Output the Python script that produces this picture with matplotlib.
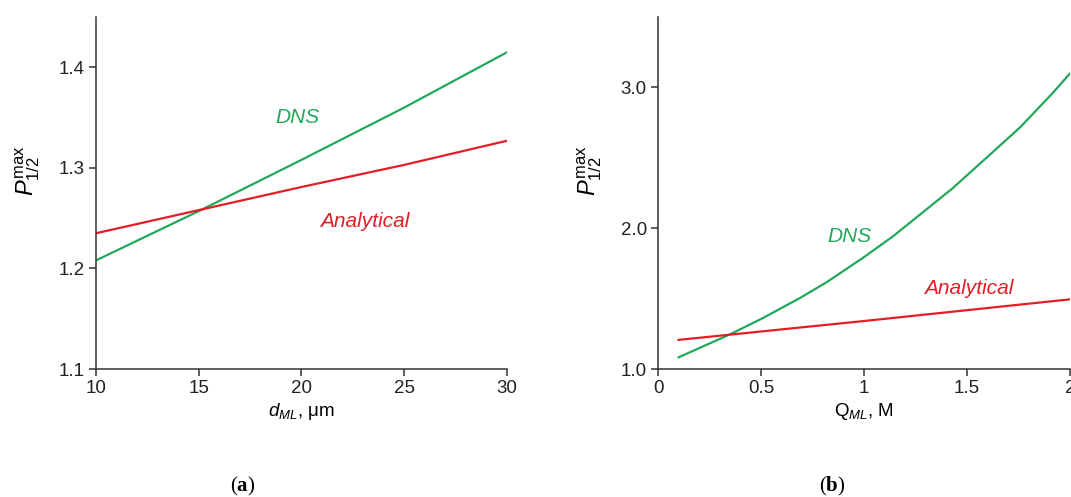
import numpy as np
import matplotlib
matplotlib.use('Agg')
import matplotlib.pyplot as plt

plt.rcParams['font.family'] = ['Liberation Sans', 'DejaVu Sans']
plt.rcParams['mathtext.fontset'] = 'custom'
plt.rcParams['mathtext.rm'] = 'Liberation Sans'
plt.rcParams['mathtext.it'] = 'Liberation Sans:italic'
plt.rcParams['mathtext.bf'] = 'Liberation Serif:bold'
plt.rcParams['font.size'] = 13.5

# (a) thickness of the mixed layer
d_ml = [10, 15, 20, 25, 30]
dns_a = [1.208, 1.257, 1.308, 1.360, 1.415]
analytical_a = [1.235, 1.258, 1.281, 1.303, 1.327]

# (b) flow rate in the mixed layer
q_ml = [0.1, 0.35, 0.5, 0.69, 0.82, 1.0, 1.14, 1.27, 1.43, 1.6, 1.76, 1.92, 2.0]
dns_b = [1.083, 1.247, 1.355, 1.505, 1.618, 1.795, 1.942, 2.095, 2.284, 2.508, 2.72, 2.967, 3.10]
q_ml_an = [0.1, 1.0, 2.0]
analytical_b = [1.207, 1.341, 1.495]

xticks_a = [10, 15, 20, 25, 30]
yticks_a = [1.1, 1.2, 1.3, 1.4]
xticks_b = [0, 0.5, 1, 1.5, 2]
xticklabels_b = ['0', '0.5', '1', '1.5', '2']
yticks_b = [1.0, 2.0, 3.0]

GREEN = '#22a85c'
RED = '#e31e24'
AXC = '#333333'

fig = plt.figure(figsize=(10.71, 4.97), dpi=100)
ax1 = fig.add_axes([0.0896, 0.2575, 0.3838, 0.7082])
ax2 = fig.add_axes([0.6144, 0.2575, 0.3847, 0.7082])

for ax in (ax1, ax2):
    ax.spines['top'].set_visible(False)
    ax.spines['right'].set_visible(False)
    for s in ('left', 'bottom'):
        ax.spines[s].set_color(AXC)
        ax.spines[s].set_linewidth(1.1)
    ax.tick_params(direction='out', length=5, width=1.1, color=AXC, labelcolor='#222222', pad=3)
    ax.set_ylabel(r'$P^{\mathrm{max}}_{\mathrm{1/2}}$', fontsize=17)
    ax.yaxis.set_label_coords(-0.132, 0.5625)

ax1.plot(d_ml, dns_a, color=GREEN, lw=1.6)
ax1.plot(d_ml, analytical_a, color=RED, lw=1.6)
ax1.set_xlim(10, 30)
ax1.set_ylim(1.1, 1.45)
ax1.set_xticks(xticks_a)
ax1.set_yticks(yticks_a)
ax1.set_yticklabels(['%.1f' % v for v in yticks_a])
ax1.set_xlabel(r'$d_{ML}$, μm', labelpad=3)
ax1.text(19.8, 1.35, 'DNS', color=GREEN, style='italic', fontsize=15, ha='center', va='center')
ax1.text(23.1, 1.247, 'Analytical', color=RED, style='italic', fontsize=15, ha='center', va='center')

ax2.plot(q_ml, dns_b, color=GREEN, lw=1.6)
ax2.plot(q_ml_an, analytical_b, color=RED, lw=1.6)
ax2.set_xlim(0, 2)
ax2.set_ylim(1.0, 3.5)
ax2.set_xticks(xticks_b)
ax2.set_xticklabels(xticklabels_b)
ax2.set_yticks(yticks_b)
ax2.set_yticklabels(['%.1f' % v for v in yticks_b])
ax2.set_xlabel(r'$\mathrm{Q}_{ML}$, M', labelpad=3)
ax2.text(0.93, 1.943, 'DNS', color=GREEN, style='italic', fontsize=15, ha='center', va='center')
ax2.text(1.51, 1.571, 'Analytical', color=RED, style='italic', fontsize=15, ha='center', va='center')

fig.text(0.2265, 0.021, r'($\mathbf{a}$)', family='Liberation Serif', fontsize=15, ha='center', va='center')
fig.text(0.777, 0.021, r'($\mathbf{b}$)', family='Liberation Serif', fontsize=15, ha='center', va='center')

fig.savefig('out.png', dpi=100)
